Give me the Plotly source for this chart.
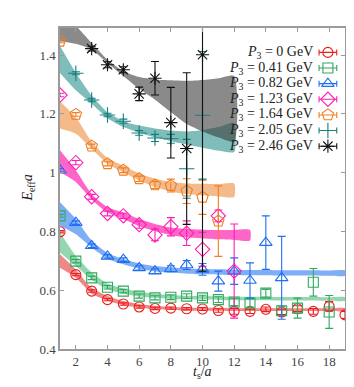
import plotly.graph_objects as go

# ---------------- data ----------------
labels = ["0", "0.41", "0.82", "1.23", "1.64", "2.05", "2.46"]

t_p0 = list(range(1, 20))
E_p0 = [0.799, 0.653, 0.597, 0.568, 0.553, 0.543, 0.538, 0.539, 0.537, 0.536,
        0.531, 0.528, 0.528, 0.535, 0.526, 0.537, 0.528, 0.545, 0.516]
err_p0 = [0.004, 0.004, 0.004, 0.004, 0.004, 0.004, 0.004, 0.004, 0.004, 0.005,
          0.006, 0.010, 0.007, 0.008, 0.009, 0.010, 0.010, 0.016, 0.012]

t_p1 = list(range(1, 19))
E_p1 = [0.853, 0.699, 0.642, 0.610, 0.597, 0.580, 0.574, 0.576, 0.580, 0.574,
        0.568, 0.560, 0.556, 0.590, 0.530, 0.539, 0.627, 0.526]
err_p1 = [0.005, 0.006, 0.006, 0.006, 0.006, 0.007, 0.007, 0.008, 0.008, 0.009,
          0.010, 0.012, 0.014, 0.013, 0.016, 0.034, 0.047, 0.056]

t_p2 = list(range(1, 16))
E_p2 = [1.008, 0.830, 0.751, 0.715, 0.704, 0.676, 0.665, 0.673, 0.686, 0.671,
        0.631, 0.665, 0.633, 0.762, 0.642]
err_p2 = [0.006, 0.006, 0.006, 0.006, 0.006, 0.007, 0.008, 0.010, 0.015, 0.020,
          0.034, 0.045, 0.060, 0.091, 0.141]

t_p3 = list(range(1, 13))
E_p3 = [1.264, 1.034, 0.918, 0.861, 0.853, 0.823, 0.788, 0.816, 0.794, 0.739,
        0.853, 0.665]
err_p3 = [0.006, 0.007, 0.008, 0.008, 0.009, 0.012, 0.020, 0.031, 0.042, 0.058,
          0.020, 0.160]

t_p4 = list(range(1, 12))
E_p4 = [1.447, 1.198, 1.090, 1.030, 1.008, 0.979, 0.958, 0.956, 0.937, 0.916, 0.835]
err_p4 = [0.005, 0.006, 0.007, 0.007, 0.008, 0.009, 0.012, 0.022, 0.042, 0.058, 0.120]

t_p5 = list(range(2, 11))
E_p5 = [1.338, 1.247, 1.196, 1.175, 1.135, 1.118, 1.115, 1.013, 1.195]
err_p5 = [0.005, 0.006, 0.006, 0.007, 0.008, 0.012, 0.015, 0.100, 0.217]

t_p6 = list(range(3, 11))
E_p6 = [1.422, 1.367, 1.350, 1.268, 1.321, 1.170, 1.082, 1.401]
err_p6 = [0.008, 0.010, 0.010, 0.023, 0.057, 0.120, 0.258, 0.736]

# fit bands: centre and half width
bt_p0 = list(range(1, 20))
bc_p0 = [0.699, 0.656, 0.598, 0.572, 0.556, 0.547, 0.541, 0.538, 0.536, 0.535,
         0.535, 0.534, 0.534, 0.534, 0.534, 0.534, 0.534, 0.534, 0.534]
bw_p0 = [0.023, 0.014, 0.010, 0.008, 0.007, 0.006, 0.006, 0.005, 0.005, 0.005,
         0.005, 0.005, 0.005, 0.005, 0.005, 0.005, 0.005, 0.005, 0.005]

bt_p1 = list(range(1, 20))
bc_p1 = [0.762, 0.699, 0.648, 0.613, 0.597, 0.587, 0.581, 0.577, 0.575, 0.574,
         0.573, 0.572, 0.572, 0.572, 0.571, 0.571, 0.571, 0.570, 0.570]
bw_p1 = [0.034, 0.017, 0.012, 0.010, 0.009, 0.008, 0.007, 0.007, 0.006, 0.006,
         0.006, 0.006, 0.006, 0.006, 0.006, 0.006, 0.006, 0.006, 0.006]

bt_p2 = list(range(1, 20))
bc_p2 = [0.859, 0.816, 0.757, 0.717, 0.697, 0.682, 0.673, 0.668, 0.665, 0.663,
         0.662, 0.661, 0.660, 0.660, 0.659, 0.659, 0.659, 0.658, 0.658]
bw_p2 = [0.040, 0.026, 0.012, 0.010, 0.009, 0.009, 0.009, 0.009, 0.009, 0.009,
         0.009, 0.009, 0.009, 0.009, 0.009, 0.009, 0.009, 0.009, 0.009]

bt_p3 = list(range(1, 14))
bc_p3 = [1.039, 0.988, 0.918, 0.873, 0.853, 0.830, 0.813, 0.800, 0.794, 0.791,
         0.789, 0.788, 0.787]
bw_p3 = [0.037, 0.020, 0.009, 0.009, 0.011, 0.012, 0.012, 0.013, 0.014, 0.015,
         0.016, 0.017, 0.018]

bt_p4 = list(range(1, 13))
bc_p4 = [1.196, 1.160, 1.093, 1.040, 1.012, 0.985, 0.965, 0.952, 0.945, 0.942,
         0.940, 0.940]
bw_p4 = [0.046, 0.028, 0.012, 0.010, 0.011, 0.012, 0.014, 0.016, 0.018, 0.020,
         0.021, 0.023]

bt_p5 = list(range(1, 13))
bc_p5 = [1.385, 1.310, 1.248, 1.195, 1.165, 1.148, 1.135, 1.125, 1.118, 1.115,
         1.115, 1.120]
bw_p5 = [0.046, 0.030, 0.014, 0.010, 0.010, 0.012, 0.015, 0.018, 0.022, 0.030,
         0.040, 0.050]

bt_p6 = list(range(1, 13))
bc_p6 = [1.5035, 1.469, 1.4295, 1.3785, 1.337, 1.305, 1.2825, 1.260, 1.2385,
         1.2275, 1.2205, 1.217]
bw_p6 = [0.0565, 0.031, 0.0115, 0.0055, 0.008, 0.020, 0.0345, 0.054, 0.0735,
         0.0875, 0.1005, 0.112]

x_ticks = [2, 4, 6, 8, 10, 12, 14, 16, 18]
y_ticks = [0.4, 0.6, 0.8, 1.0, 1.2, 1.4]
y_ticktext = ["0.4", "0.6", "0.8", "1", "1.2", "1.4"]

# ---------------- styling ----------------
colors = ["#ee1c1c", "#2eaa5e", "#1f6ff0", "#ff1cb4", "#f07f22", "#14807e", "#111111"]
band_colors = ["rgba(232,60,60,0.62)", "rgba(60,180,110,0.55)", "rgba(40,120,240,0.6)",
               "rgba(255,40,180,0.72)", "rgba(238,140,60,0.6)", "rgba(20,135,130,0.55)",
               "rgba(60,60,60,0.6)"]
symbols = ["circle-open", "square-open", "triangle-up-open", "diamond-open",
           "pentagon-open", "cross-thin-open", "asterisk-open"]
sizes = [10, 10, 11, 11, 12, 11, 11]

series = [
    (t_p0, E_p0, err_p0, bt_p0, bc_p0, bw_p0),
    (t_p1, E_p1, err_p1, bt_p1, bc_p1, bw_p1),
    (t_p2, E_p2, err_p2, bt_p2, bc_p2, bw_p2),
    (t_p3, E_p3, err_p3, bt_p3, bc_p3, bw_p3),
    (t_p4, E_p4, err_p4, bt_p4, bc_p4, bw_p4),
    (t_p5, E_p5, err_p5, bt_p5, bc_p5, bw_p5),
    (t_p6, E_p6, err_p6, bt_p6, bc_p6, bw_p6),
]

fig = go.Figure()

# bands
for i, (t, E, err, bt, bc, bw) in enumerate(series):
    hi = [c + w for c, w in zip(bc, bw)]
    lo = [c - w for c, w in zip(bc, bw)]
    fig.add_trace(go.Scatter(
        x=bt + bt[::-1], y=hi + lo[::-1], fill="toself", mode="lines",
        line=dict(width=0, shape="spline", smoothing=0.6),
        fillcolor=band_colors[i], hoverinfo="skip", showlegend=False))

# data points
for i, (t, E, err, bt, bc, bw) in enumerate(series):
    fig.add_trace(go.Scatter(
        x=t, y=E, mode="markers",
        marker=dict(symbol=symbols[i], size=sizes[i], color=colors[i],
                    line=dict(width=1.1, color=colors[i])),
        error_y=dict(type="data", array=err, visible=True, color=colors[i],
                     thickness=1.1, width=4),
        showlegend=False))

# manual legend (symbol right of text)
leg_x = 0.94
leg_y0 = 0.924
leg_dy = 0.0487
txt_font = dict(family="Liberation Serif", size=14, color="#222")
for i in range(7):
    yy = leg_y0 - i * leg_dy
    fig.add_trace(go.Scatter(
        x=[leg_x], y=[yy], xaxis="x2", yaxis="y2", mode="markers",
        marker=dict(symbol=symbols[i], size=sizes[i], color=colors[i],
                    line=dict(width=1.1, color=colors[i])),
        error_x=dict(type="constant", value=0.031, visible=True, color=colors[i],
                     thickness=1.1, width=3),
        showlegend=False, hoverinfo="skip"))
    fig.add_annotation(
        x=0.8936, y=yy, xref="paper", yref="paper", xanchor="right", yanchor="middle",
        text="<i>P</i><sub>3</sub> = " + labels[i] + " GeV", showarrow=False,
        font=txt_font)

# axis titles
fig.add_annotation(x=-0.112, y=0.5, xref="paper", yref="paper", textangle=-90,
                   text="<i>E</i><sub>eff</sub><i>a</i>", showarrow=False,
                   xanchor="center", yanchor="middle", font=txt_font)
fig.add_annotation(x=0.5, y=-0.072, xref="paper", yref="paper",
                   text="<i>t</i><sub>s</sub>/<i>a</i>", showarrow=False,
                   xanchor="center", yanchor="middle", font=txt_font)

axis_common = dict(showline=True, linecolor="#9a9a9a", linewidth=1.5, mirror="ticks",
                   ticks="inside", ticklen=4, tickcolor="#9a9a9a", showgrid=False,
                   zeroline=False,
                   tickfont=dict(family="Liberation Serif", size=13, color="#444"))

fig.update_layout(
    width=354, height=387,
    margin=dict(l=52, r=17, t=20, b=46),
    paper_bgcolor="white", plot_bgcolor="white",
    showlegend=False,
    xaxis=dict(range=[1, 19], tickvals=x_ticks, **axis_common),
    yaxis=dict(range=[0.4, 1.492], tickvals=y_ticks, ticktext=y_ticktext, **axis_common),
    xaxis2=dict(overlaying="x", range=[0, 1], visible=False, fixedrange=True),
    yaxis2=dict(overlaying="y", range=[0, 1], visible=False, fixedrange=True),
)

fig.write_html("out.html")
